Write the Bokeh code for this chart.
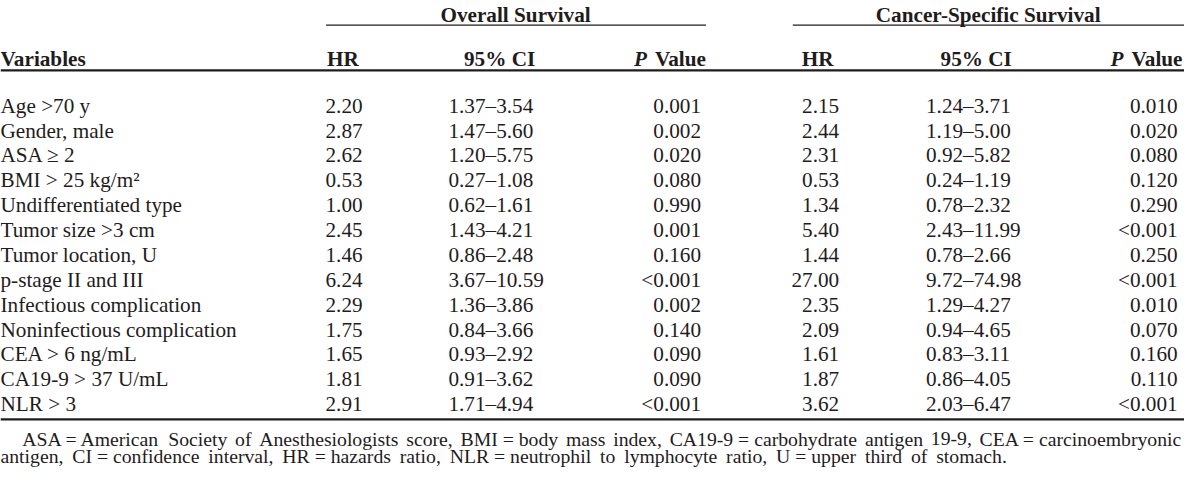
from bokeh.plotting import figure
from bokeh.models import Range1d, ColumnDataSource
from bokeh.core.properties import value
from bokeh.embed import file_html
from bokeh.resources import INLINE

# ---------------- data ----------------
variables = [
    "Age >70 y", "Gender, male", "ASA \u2265 2", "BMI > 25 kg/m\u00b2",
    "Undifferentiated type", "Tumor size >3 cm", "Tumor location, U",
    "p-stage II and III", "Infectious complication", "Noninfectious complication",
    "CEA > 6 ng/mL", "CA19-9 > 37 U/mL", "NLR > 3",
]
os_hr = [2.20, 2.87, 2.62, 0.53, 1.00, 2.45, 1.46, 6.24, 2.29, 1.75, 1.65, 1.81, 2.91]
os_ci_low = [1.37, 1.47, 1.20, 0.27, 0.62, 1.43, 0.86, 3.67, 1.36, 0.84, 0.93, 0.91, 1.71]
os_ci_high = [3.54, 5.60, 5.75, 1.08, 1.61, 4.21, 2.48, 10.59, 3.86, 3.66, 2.92, 3.62, 4.94]
os_p = ["0.001", "0.002", "0.020", "0.080", "0.990", "0.001", "0.160",
        "<0.001", "0.002", "0.140", "0.090", "0.090", "<0.001"]
css_hr = [2.15, 2.44, 2.31, 0.53, 1.34, 5.40, 1.44, 27.00, 2.35, 2.09, 1.61, 1.87, 3.62]
css_ci_low = [1.24, 1.19, 0.92, 0.24, 0.78, 2.43, 0.78, 9.72, 1.29, 0.94, 0.83, 0.86, 2.03]
css_ci_high = [3.71, 5.00, 5.82, 1.19, 2.32, 11.99, 2.66, 74.98, 4.27, 4.65, 3.11, 4.05, 6.47]
css_p = ["0.010", "0.020", "0.080", "0.120", "0.290", "<0.001", "0.250",
         "<0.001", "0.010", "0.070", "0.160", "0.110", "<0.001"]

group_labels = ["Overall Survival", "Cancer-Specific Survival"]
col_labels = ["Variables", "HR", "95% CI", "Value"]
footnote = [
    "ASA = American Society of Anesthesiologists score, BMI = body mass index, "
    "CA19-9 = carbohydrate antigen 19-9, CEA = carcinoembryonic",
    "antigen, CI = confidence interval, HR = hazards ratio, NLR = neutrophil to "
    "lymphocyte ratio, U = upper third of stomach.",
]

# ---------------- layout (reference pixel units) ----------------
XR = (0, 1200)
YR = (476, 1)
PW, PH = 1184, 467
SX = PW / (XR[1] - XR[0])

FONT = value("Liberation Serif")
BODY_PX = 21.5
FOOT_PX = 20.0
INK = "#1f1c1c"

row_y0, row_dy = 108.0, 25.3
rows_y = [row_y0 + i * row_dy for i in range(len(variables))]

p = figure(width=PW, height=PH, output_backend="svg", toolbar_location=None,
           x_range=Range1d(*XR), y_range=Range1d(*YR),
           x_axis_type=None, y_axis_type=None, min_border=0,
           background_fill_color="white", border_fill_color="white",
           outline_line_color=None)
p.grid.visible = False


def px(size):
    return "%.2fpx" % (size * SX)


def col(xs, ys, texts, align, style="normal", size=BODY_PX):
    src = ColumnDataSource(dict(x=xs, y=ys, t=texts))
    p.text(x="x", y="y", text="t", source=src, text_align=align,
           text_baseline="alphabetic", text_font=FONT, text_font_size=px(size),
           text_font_style=style, text_color=INK)


n = len(variables)
fmt = lambda v: "%.2f" % v
ci = lambda lo, hi: ["%.2f\u2013%.2f" % (a, b) for a, b in zip(lo, hi)]

# body
col([0] * n, rows_y, variables, "left")
col([367] * n, rows_y, [fmt(v) for v in os_hr], "right")
col([454] * n, rows_y, ci(os_ci_low, os_ci_high), "left")
col([710] * n, rows_y, os_p, "right")
col([850] * n, rows_y, [fmt(v) for v in css_hr], "right")
col([938] * n, rows_y, ci(css_ci_low, css_ci_high), "left")
col([1193] * n, rows_y, css_p, "right")

# group headers
col([522, 1001], [16, 16], group_labels, "center", "bold")
p.segment(x0=[330, 803], x1=[715, 1200], y0=[26, 26], y1=[26, 26],
          line_color=INK, line_width=1.4)

# column headers
hy = 61
value_w = 2.5 * BODY_PX  # Times-Bold advance of "Value"
col([0], [hy], [col_labels[0]], "left", "bold")
col([331, 812], [hy, hy], [col_labels[1]] * 2, "left", "bold")
col([542, 1025], [hy, hy], [col_labels[2]] * 2, "right", "bold")
col([715, 1198], [hy, hy], [col_labels[3]] * 2, "right", "bold")
col([715 - value_w - 6, 1198 - value_w - 6], [hy, hy], ["P", "P"], "right",
    "bold italic")

# rules
p.segment(x0=[0, 0], x1=[1200, 1200], y0=[72, 427], y1=[72, 427],
          line_color=INK, line_width=2.3)

# footnote: justified word placement using Times advance widths
TW = {" ": 250, ",": 250, "-": 333, ".": 250, "/": 278, "=": 564, "<": 564, ">": 564,
      "A": 722, "B": 667, "C": 667, "D": 722, "E": 611, "F": 556, "G": 722, "H": 722,
      "I": 333, "J": 389, "K": 722, "L": 611, "M": 889, "N": 722, "O": 722, "P": 556,
      "Q": 722, "R": 667, "S": 556, "T": 611, "U": 722, "V": 722, "W": 944, "X": 722,
      "Y": 722, "Z": 611, "a": 444, "b": 500, "c": 444, "d": 500, "e": 444, "f": 333,
      "g": 500, "h": 500, "i": 278, "j": 278, "k": 500, "l": 278, "m": 778, "n": 500,
      "o": 500, "p": 500, "q": 500, "r": 333, "s": 389, "t": 278, "u": 500, "v": 500,
      "w": 722, "x": 500, "y": 500, "z": 444}


def tw(s, size):
    return sum(TW.get(c, 500) for c in s) / 1000.0 * size


def tokens(line):
    words = line.split(" ")
    out = []
    i = 0
    while i < len(words):
        if i + 2 < len(words) and words[i + 1] == "=":
            out.append(" ".join(words[i:i + 3]))
            i += 3
        else:
            out.append(words[i])
            i += 1
    return out


def place_line(line, x0, x1, y):
    toks = tokens(line)
    widths = [tw(t, FOOT_PX) for t in toks]
    gap = (x1 - x0 - sum(widths)) / (len(toks) - 1)
    xs, acc = [], x0
    for w in widths:
        xs.append(acc)
        acc += w + gap
    col(xs, [y] * len(toks), toks, "left", "normal", FOOT_PX)


place_line(footnote[0], 22, 1198, 447)
place_line(footnote[1], 0, 1020, 464)

open("out.html", "w").write(file_html(p, INLINE))
